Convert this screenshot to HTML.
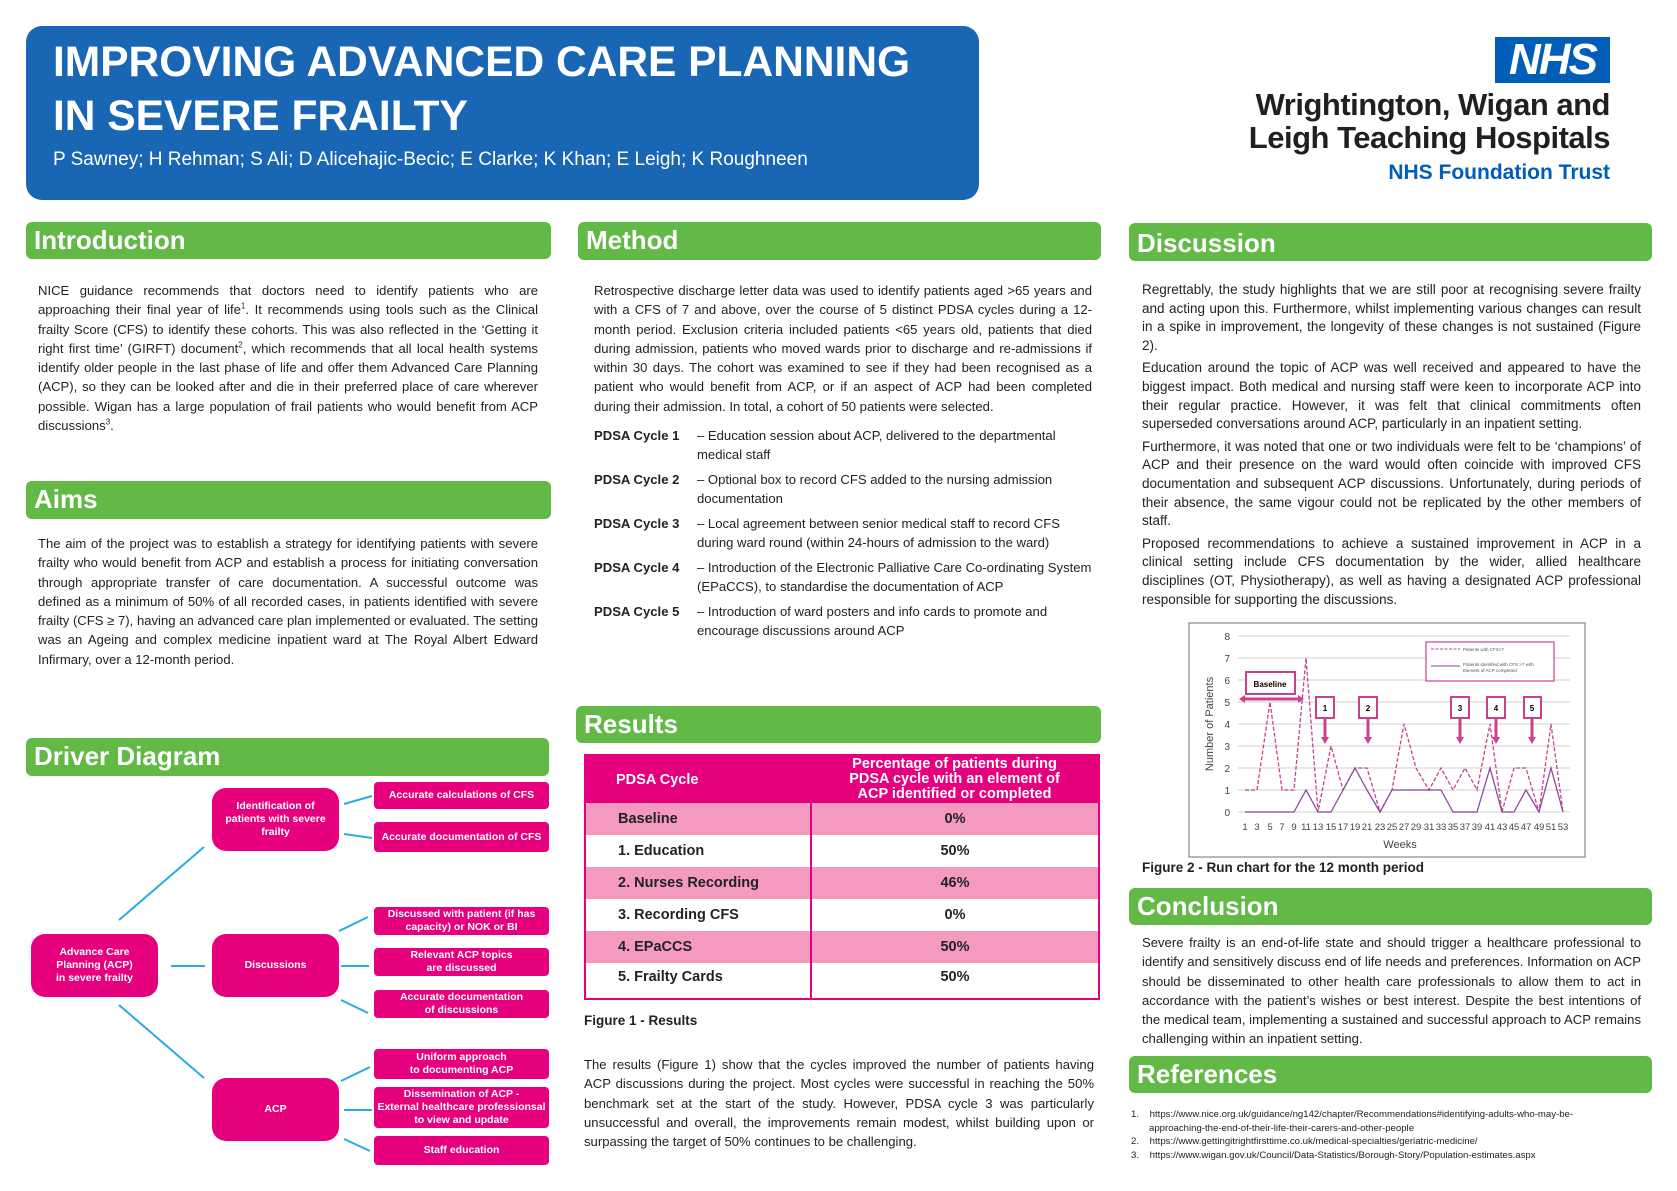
<!DOCTYPE html>
<html><head><meta charset="utf-8"><style>
body{margin:0;width:1677px;height:1191px;position:relative;background:#fff;font-family:"Liberation Sans",Arial,sans-serif;overflow:hidden;color:#222}
.a{position:absolute}
.hdr{position:absolute;background:#62b946;border-radius:6px;color:#fff;font-weight:bold;font-size:26px;padding-left:8px;box-sizing:border-box;line-height:36px}
.t{position:absolute;font-size:13.1px;line-height:19.3px;text-align:justify;color:#222}
.t p{margin:0 0 6px 0}
.dsc p{margin:0 0 4px 0}
sup{font-size:8px;line-height:0}
.pd{position:absolute;font-size:13.1px;line-height:18.5px;color:#222}
.pd .r{display:flex;margin-bottom:7px}
.pd .k{flex:0 0 103px;font-weight:bold;white-space:nowrap}
.pd .v{flex:1}
.bx{position:absolute;background:#e6007e;color:#fff;font-weight:bold;font-size:10.5px;text-align:center;display:flex;align-items:center;justify-content:center;line-height:13px;border-radius:4px}
.mb{border-radius:14px;font-size:10.5px}
table{border-collapse:collapse}
</style></head><body>
<div class="a" style="left:26px;top:26px;width:953px;height:174px;background:#1866b4;border-radius:16px"></div>
<div class="a" style="left:53px;top:36px;color:#fff;font-weight:bold;font-size:42.5px;line-height:54px">IMPROVING ADVANCED CARE PLANNING<br>IN SEVERE FRAILTY</div>
<div class="a" style="left:53px;top:149px;color:#fff;font-size:19px">P Sawney; H Rehman; S Ali; D Alicehajic-Becic; E Clarke; K Khan; E Leigh; K Roughneen</div>

<div class="a" style="left:1495px;top:37px;width:115px;height:46px;background:#005eb8;color:#fff;font-weight:bold;font-style:italic;font-size:44px;line-height:46px;text-align:center;letter-spacing:-2px">NHS</div>
<div class="a" style="right:67px;top:88px;text-align:right;font-weight:bold;font-size:31px;line-height:33px;color:#231f20;letter-spacing:-0.5px">Wrightington, Wigan and<br>Leigh Teaching Hospitals</div>
<div class="a" style="right:67px;top:161px;font-weight:bold;font-size:21px;color:#005eb8">NHS Foundation Trust</div>

<div class="hdr" style="left:26px;top:222px;width:525px;height:37px">Introduction</div>
<div class="hdr" style="left:578px;top:222px;width:523px;height:38px">Method</div>
<div class="hdr" style="left:1129px;top:223px;width:523px;height:38px;line-height:40px">Discussion</div>
<div class="hdr" style="left:26px;top:481px;width:525px;height:38px">Aims</div>
<div class="hdr" style="left:26px;top:738px;width:523px;height:38px">Driver Diagram</div>
<div class="hdr" style="left:576px;top:706px;width:525px;height:37px">Results</div>
<div class="hdr" style="left:1129px;top:888px;width:523px;height:37px">Conclusion</div>
<div class="hdr" style="left:1129px;top:1056px;width:523px;height:37px">References</div>

<div class="t" style="left:38px;top:281px;width:500px">NICE guidance recommends that doctors need to identify patients who are approaching their final year of life<sup>1</sup>. It recommends using tools such as the Clinical frailty Score (CFS) to identify these cohorts. This was also reflected in the ‘Getting it right first time’ (GIRFT) document<sup>2</sup>, which recommends that all local health systems identify older people in the last phase of life and offer them Advanced Care Planning (ACP), so they can be looked after and die in their preferred place of care wherever possible. Wigan has a large population of frail patients who would benefit from ACP discussions<sup>3</sup>.</div>

<div class="t" style="left:38px;top:534px;width:500px">The aim of the project was to establish a strategy for identifying patients with severe frailty who would benefit from ACP and establish a process for initiating conversation through appropriate transfer of care documentation. A successful outcome was defined as a minimum of 50% of all recorded cases, in patients identified with severe frailty (CFS ≥ 7), having an advanced care plan implemented or evaluated. The setting was an Ageing and complex medicine inpatient ward at The Royal Albert Edward Infirmary, over a 12-month period.</div>

<div class="t" style="left:594px;top:281px;width:498px">Retrospective discharge letter data was used to identify patients aged &gt;65 years and with a CFS of 7 and above, over the course of 5 distinct PDSA cycles during a 12-month period. Exclusion criteria included patients &lt;65 years old, patients that died during admission, patients who moved wards prior to discharge and re-admissions if within 30 days. The cohort was examined to see if they had been recognised as a patient who would benefit from ACP, or if an aspect of ACP had been completed during their admission. In total, a cohort of 50 patients were selected.</div>

<div class="pd" style="left:594px;top:427px;width:500px">
<div class="r"><div class="k">PDSA Cycle 1</div><div class="v">– Education session about ACP, delivered to the departmental medical staff</div></div>
<div class="r"><div class="k">PDSA Cycle 2</div><div class="v">– Optional box to record CFS added to the nursing admission documentation</div></div>
<div class="r"><div class="k">PDSA Cycle 3</div><div class="v">– Local agreement between senior medical staff to record CFS during ward round (within 24-hours of admission to the ward)</div></div>
<div class="r"><div class="k">PDSA Cycle 4</div><div class="v">– Introduction of the Electronic Palliative Care Co-ordinating System (EPaCCS), to standardise the documentation of ACP</div></div>
<div class="r"><div class="k">PDSA Cycle 5</div><div class="v">– Introduction of ward posters and info cards to promote and encourage discussions around ACP</div></div>
</div>

<table class="a" style="left:584px;top:754px;width:516px;border:2px solid #e6007e;font-weight:bold;font-size:14.5px">
<tr style="background:#e6007e;color:#fff;height:46px"><td style="width:194px;padding-left:30px">PDSA Cycle</td><td style="text-align:center;line-height:15px">Percentage of patients during<br>PDSA cycle with an element of<br>ACP identified or completed</td></tr>
<tr style="background:#f49ac1;height:32px"><td style="padding-left:32px;border-right:2px solid #e6007e">Baseline</td><td style="text-align:center">0%</td></tr>
<tr style="height:32px"><td style="padding-left:32px;border-right:2px solid #e6007e">1. Education</td><td style="text-align:center">50%</td></tr>
<tr style="background:#f49ac1;height:32px"><td style="padding-left:32px;border-right:2px solid #e6007e">2. Nurses Recording</td><td style="text-align:center">46%</td></tr>
<tr style="height:32px"><td style="padding-left:32px;border-right:2px solid #e6007e">3. Recording CFS</td><td style="text-align:center">0%</td></tr>
<tr style="background:#f49ac1;height:32px"><td style="padding-left:32px;border-right:2px solid #e6007e">4. EPaCCS</td><td style="text-align:center">50%</td></tr>
<tr style="height:36px"><td style="padding-left:32px;border-right:2px solid #e6007e;vertical-align:top;padding-top:6px">5. Frailty Cards</td><td style="text-align:center;vertical-align:top;padding-top:6px">50%</td></tr>
</table>
<div class="a" style="left:584px;top:1013px;font-weight:bold;font-size:13.5px">Figure 1 - Results</div>

<div class="t" style="left:584px;top:1055px;width:510px">The results (Figure 1) show that the cycles improved the number of patients having ACP discussions during the project. Most cycles were successful in reaching the 50% benchmark set at the start of the study. However, PDSA cycle 3 was particularly unsuccessful and overall, the improvements remain modest, whilst building upon or surpassing the target of 50% continues to be challenging.</div>

<div class="t dsc" style="left:1142px;top:281px;width:499px;font-size:13.5px;line-height:18.6px"><p>Regrettably, the study highlights that we are still poor at recognising severe frailty and acting upon this. Furthermore, whilst implementing various changes can result in a spike in improvement, the longevity of these changes is not sustained (Figure 2).</p><p>Education around the topic of ACP was well received and appeared to have the biggest impact. Both medical and nursing staff were keen to incorporate ACP into their regular practice. However, it was felt that clinical commitments often superseded conversations around ACP, particularly in an inpatient setting.</p><p>Furthermore, it was noted that one or two individuals were felt to be ‘champions’ of ACP and their presence on the ward would often coincide with improved CFS documentation and subsequent ACP discussions. Unfortunately, during periods of their absence, the same vigour could not be replicated by the other members of staff.</p><p>Proposed recommendations to achieve a sustained improvement in ACP in a clinical setting include CFS documentation by the wider, allied healthcare disciplines (OT, Physiotherapy), as well as having a designated ACP professional responsible for supporting the discussions.</p></div>

<div class="a" style="left:1142px;top:860px;font-weight:bold;font-size:13.5px">Figure 2 - Run chart for the 12 month period</div>

<div class="t" style="left:1142px;top:933px;width:499px">Severe frailty is an end-of-life state and should trigger a healthcare professional to identify and sensitively discuss end of life needs and preferences. Information on ACP should be disseminated to other health care professionals to allow them to act in accordance with the patient’s wishes or best interest. Despite the best intentions of the medical team, implementing a sustained and successful approach to ACP remains challenging within an inpatient setting.</div>

<div class="a" style="left:1131px;top:1108px;font-size:9.6px;line-height:13.6px;color:#222">
<div>1.&nbsp;&nbsp;&nbsp;&nbsp;https://www.nice.org.uk/guidance/ng142/chapter/Recommendations#identifying-adults-who-may-be-<br><span style="padding-left:18px">approaching-the-end-of-their-life-their-carers-and-other-people</span></div>
<div>2.&nbsp;&nbsp;&nbsp;&nbsp;https://www.gettingitrightfirsttime.co.uk/medical-specialties/geriatric-medicine/</div>
<div>3.&nbsp;&nbsp;&nbsp;&nbsp;https://www.wigan.gov.uk/Council/Data-Statistics/Borough-Story/Population-estimates.aspx</div>
</div>

<svg class="a" style="left:0;top:0" width="1677" height="1191">
<g stroke="#29abe2" stroke-width="2">
<line x1="119" y1="920" x2="204" y2="847"/><line x1="171" y1="966" x2="205" y2="966"/><line x1="119" y1="1005" x2="204" y2="1078"/>
<line x1="344" y1="804" x2="372" y2="796"/><line x1="344" y1="834" x2="372" y2="838"/>
<line x1="339" y1="931" x2="368" y2="917"/><line x1="341" y1="966" x2="369" y2="966"/><line x1="341" y1="1000" x2="368" y2="1013"/>
<line x1="341" y1="1081" x2="370" y2="1067"/><line x1="344" y1="1110" x2="372" y2="1110"/><line x1="344" y1="1139" x2="370" y2="1151"/>
</g>
<rect x="1189" y="623" width="396" height="234" fill="#fff" stroke="#888" stroke-width="1.2"/>
<g stroke="#d9d9d9" stroke-width="1.2">
<line x1="1238" x2="1570" y1="636" y2="636"/><line x1="1238" x2="1570" y1="658" y2="658"/><line x1="1238" x2="1570" y1="680" y2="680"/><line x1="1238" x2="1570" y1="702" y2="702"/><line x1="1238" x2="1570" y1="724" y2="724"/><line x1="1238" x2="1570" y1="746" y2="746"/><line x1="1238" x2="1570" y1="768" y2="768"/><line x1="1238" x2="1570" y1="790" y2="790"/><line x1="1238" x2="1570" y1="812" y2="812"/>
</g>
<g font-size="10" fill="#444" text-anchor="end" font-family="Liberation Sans">
<text x="1230" y="640">8</text><text x="1230" y="662">7</text><text x="1230" y="684">6</text><text x="1230" y="706">5</text><text x="1230" y="728">4</text><text x="1230" y="750">3</text><text x="1230" y="772">2</text><text x="1230" y="794">1</text><text x="1230" y="816">0</text>
</g>
<g font-size="9.5" fill="#444" text-anchor="middle" font-family="Liberation Sans">
<text x="1245" y="830">1</text><text x="1257" y="830">3</text><text x="1270" y="830">5</text><text x="1282" y="830">7</text><text x="1294" y="830">9</text><text x="1306" y="830">11</text><text x="1318" y="830">13</text><text x="1331" y="830">15</text><text x="1343" y="830">17</text><text x="1355" y="830">19</text><text x="1367" y="830">21</text><text x="1380" y="830">23</text><text x="1392" y="830">25</text><text x="1404" y="830">27</text><text x="1416" y="830">29</text><text x="1429" y="830">31</text><text x="1441" y="830">33</text><text x="1453" y="830">35</text><text x="1465" y="830">37</text><text x="1477" y="830">39</text><text x="1490" y="830">41</text><text x="1502" y="830">43</text><text x="1514" y="830">45</text><text x="1526" y="830">47</text><text x="1539" y="830">49</text><text x="1551" y="830">51</text><text x="1563" y="830">53</text>
</g>
<text x="1400" y="848" font-size="11" fill="#444" text-anchor="middle" font-family="Liberation Sans">Weeks</text>
<text transform="translate(1213,724) rotate(-90)" font-size="11" fill="#444" text-anchor="middle" font-family="Liberation Sans">Number of Patients</text>
<polyline fill="none" stroke="#c9418f" stroke-width="1.3" stroke-dasharray="4,2" points="1245,790 1257,790 1270,702 1282,790 1294,790 1306,658 1318,812 1331,746 1343,790 1355,768 1367,768 1380,812 1392,790 1404,724 1416,768 1429,790 1441,768 1453,790 1465,768 1477,790 1490,724 1502,812 1514,768 1526,768 1539,812 1551,724 1563,812"/>
<polyline fill="none" stroke="#8a4a9c" stroke-width="1.3" points="1245,812 1257,812 1270,812 1282,812 1294,812 1306,790 1318,812 1331,812 1343,790 1355,768 1367,790 1380,812 1392,790 1404,790 1416,790 1429,790 1441,790 1453,812 1465,812 1477,812 1490,768 1502,812 1514,812 1526,790 1539,812 1551,768 1563,812"/>
<rect x="1426" y="642" width="128" height="39" fill="#fff" stroke="#c9418f" stroke-width="1.2"/>
<line x1="1431" y1="649" x2="1460" y2="649" stroke="#c9418f" stroke-dasharray="3,1.5"/>
<line x1="1431" y1="666" x2="1460" y2="666" stroke="#8a4a9c"/>
<g font-size="4.5" fill="#555" font-family="Liberation Sans"><text x="1463" y="651">Patients with CFS&gt;7</text><text x="1463" y="666">Patients identified with CFS &gt;7 with</text><text x="1463" y="672">Element of ACP completed</text></g>
<rect x="1246" y="672" width="49" height="22" fill="#fff" stroke="#c9418f" stroke-width="2"/>
<text x="1270" y="687" font-size="8" font-weight="bold" text-anchor="middle" font-family="Liberation Sans">Baseline</text>
<line x1="1244" y1="699" x2="1299" y2="699" stroke="#c9418f" stroke-width="3"/>
<polygon points="1239,699 1245,695 1245,703" fill="#c9418f"/><polygon points="1304,699 1298,695 1298,703" fill="#c9418f"/>
<g stroke="#c9418f" fill="#fff" stroke-width="2">
<rect x="1316" y="697" width="18" height="21"/><rect x="1359" y="697" width="18" height="21"/><rect x="1451" y="697" width="18" height="21"/><rect x="1487" y="697" width="18" height="21"/><rect x="1524" y="697" width="17" height="21"/>
</g>
<g stroke="#c9418f" stroke-width="3">
<line x1="1325" y1="718" x2="1325" y2="738"/><line x1="1368" y1="718" x2="1368" y2="738"/><line x1="1460" y1="718" x2="1460" y2="738"/><line x1="1496" y1="718" x2="1496" y2="738"/><line x1="1532" y1="718" x2="1532" y2="738"/>
</g>
<g fill="#c9418f"><polygon points="1321,737 1329,737 1325,744"/><polygon points="1364,737 1372,737 1368,744"/><polygon points="1456,737 1464,737 1460,744"/><polygon points="1492,737 1500,737 1496,744"/><polygon points="1528,737 1536,737 1532,744"/></g>
<g font-size="8" font-weight="bold" text-anchor="middle" font-family="Liberation Sans"><text x="1325" y="711">1</text><text x="1368" y="711">2</text><text x="1460" y="711">3</text><text x="1496" y="711">4</text><text x="1532" y="711">5</text></g>
</svg>

<div class="bx mb" style="left:31px;top:934px;width:127px;height:63px">Advance Care<br>Planning (ACP)<br>in severe frailty</div>
<div class="bx mb" style="left:212px;top:788px;width:127px;height:63px">Identification of<br>patients with severe<br>frailty</div>
<div class="bx mb" style="left:212px;top:934px;width:127px;height:63px">Discussions</div>
<div class="bx mb" style="left:212px;top:1078px;width:127px;height:63px">ACP</div>
<div class="bx" style="left:374px;top:782px;width:175px;height:27px">Accurate calculations of CFS</div>
<div class="bx" style="left:374px;top:822px;width:175px;height:30px">Accurate documentation of CFS</div>
<div class="bx" style="left:374px;top:907px;width:175px;height:28px">Discussed with patient (if has<br>capacity) or NOK or BI</div>
<div class="bx" style="left:374px;top:948px;width:175px;height:28px">Relevant ACP topics<br>are discussed</div>
<div class="bx" style="left:374px;top:990px;width:175px;height:28px">Accurate documentation<br>of discussions</div>
<div class="bx" style="left:374px;top:1049px;width:175px;height:30px">Uniform approach<br>to documenting ACP</div>
<div class="bx" style="left:374px;top:1087px;width:175px;height:41px">Dissemination of ACP -<br>External healthcare professionsal<br>to view and update</div>
<div class="bx" style="left:374px;top:1136px;width:175px;height:29px">Staff education</div>
</body></html>
